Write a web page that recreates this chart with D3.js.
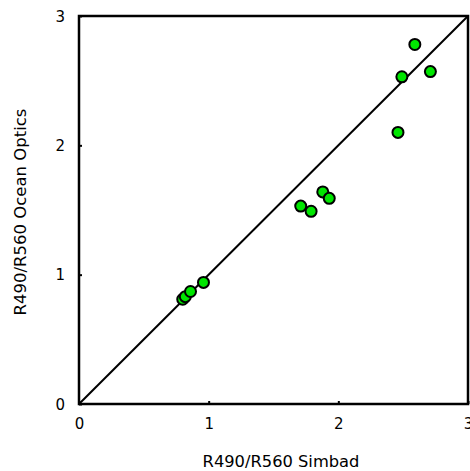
<!DOCTYPE html>
<html><head><meta charset="utf-8">
<script src="https://cdn.jsdelivr.net/npm/d3@7"></script>
<style>body{margin:0;background:#fff}svg{display:block}text{font-family:"DejaVu Sans",sans-serif;fill:#000}</style>
</head><body><svg id="c" width="470" height="471"></svg>
<script>
const simbad = [0.80,0.82,0.86,0.96,1.71,1.79,1.88,1.93,2.46,2.49,2.59,2.71];
const oceanOptics = [0.81,0.83,0.87,0.94,1.53,1.49,1.64,1.59,2.10,2.53,2.78,2.57];
const tickValues = [0,1,2,3];
const xTitle = "R490/R560 Simbad";
const yTitle = "R490/R560 Ocean Optics";

const svg = d3.select("#c");
const L=79,R=468,T=16,B=404;
const x = d3.scaleLinear().domain([0,3]).range([L,R]);
const y = d3.scaleLinear().domain([0,3]).range([B,T]);

svg.append("line").attr("x1",x(0)).attr("y1",y(0)).attr("x2",x(3)).attr("y2",y(3))
  .attr("stroke","#000").attr("stroke-width",2);

const xa = svg.append("g").attr("transform",`translate(0,${B})`)
  .call(d3.axisBottom(x).tickValues(tickValues).tickFormat(d3.format("d")).tickSize(-3).tickPadding(14));
const ya = svg.append("g").attr("transform",`translate(${L},0)`)
  .call(d3.axisLeft(y).tickValues(tickValues).tickFormat(d3.format("d")).tickSize(-3).tickPadding(14));
[xa,ya].forEach(g=>{g.select(".domain").remove();g.selectAll("line").attr("stroke","#000").attr("stroke-width",2);
  g.selectAll("text").attr("font-size",15).attr("font-family","DejaVu Sans");});
ya.selectAll("text").attr("dy","0.35em");

svg.append("rect").attr("x",L).attr("y",T).attr("width",R-L).attr("height",B-T)
  .attr("fill","none").attr("stroke","#000").attr("stroke-width",2.5);

svg.append("g").selectAll("circle").data(simbad).join("circle")
  .attr("cx",d=>x(d)).attr("cy",(d,i)=>y(oceanOptics[i])).attr("r",5.5)
  .attr("fill","#00e600").attr("stroke","#000").attr("stroke-width",2);

svg.append("text").attr("x",281).attr("y",467).attr("text-anchor","middle").attr("font-size",16.3).text(xTitle);
svg.append("text").attr("transform",`translate(26,${(T+B)/2+2}) rotate(-90)`).attr("text-anchor","middle").attr("font-size",16.5).text(yTitle);
</script></body></html>
